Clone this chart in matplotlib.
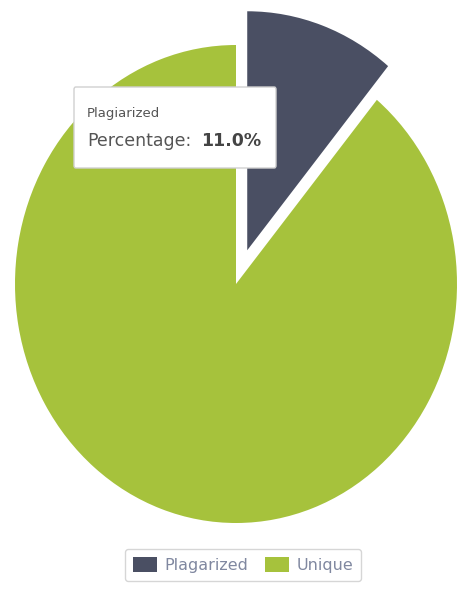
import numpy as np
import matplotlib.pyplot as plt
from matplotlib.patches import FancyBboxPatch

labels = ['Plagiarized', 'Unique']
legend_labels = ['Plagarized', 'Unique']
values = [11.0, 89.0]
colors = ['#4a4f63', '#a6c23c']

# pie geometry in pixels (reference photo is a bit stretched vertically)
W, H = 458, 589
cx, cy = 236, 284
rx, ry = 221, 239

fig = plt.figure(figsize=(W / 100, H / 100), dpi=100)
ax = fig.add_axes([0, 0, 1, 1])

wedges, _ = ax.pie(values, colors=colors, startangle=90, counterclock=False,
                   explode=[0.15, 0], radius=1,
                   wedgeprops=dict(linewidth=0))
ax.set_aspect('auto')
ax.set_xlim(-cx / rx, (W - cx) / rx)
ax.set_ylim(-(H - cy) / ry, cy / ry)
ax.axis('off')

# tooltip box (pixel coords -> figure fraction)
def fx(x):
    return x / W

def fy(y):
    return 1 - y / H

box = FancyBboxPatch((fx(74), fy(168)), fx(276) - fx(74), fy(87) - fy(168),
                     boxstyle='round,pad=0,rounding_size=0.004',
                     transform=fig.transFigure, facecolor='white',
                     edgecolor='#d0d0d0', linewidth=1, zorder=5)
fig.patches.append(box)
fig.text(fx(87), fy(113), labels[0], fontsize=9.5, color='#555555',
         va='center', ha='left', zorder=6)
fig.text(fx(87), fy(141), 'Percentage:', fontsize=12.5, color='#555555',
         va='center', ha='left', zorder=6)
fig.text(fx(201), fy(141), f'{values[0]:.1f}%', fontsize=12.5, color='#444444',
         fontweight='bold', va='center', ha='left', zorder=6)

# legend
leg = fig.legend(wedges, legend_labels, loc='center', ncol=2,
                 bbox_to_anchor=(fx(243), fy(565)), frameon=True,
                 fontsize=11.5, handlelength=1.5, handleheight=1.1,
                 columnspacing=1.0, handletextpad=0.5, borderpad=0.5,
                 fancybox=True)
leg.get_frame().set_edgecolor('#cccccc')
leg.get_frame().set_linewidth(1)
for txt in leg.get_texts():
    txt.set_color('#8088a0')

fig.savefig('out.png', dpi=100)
